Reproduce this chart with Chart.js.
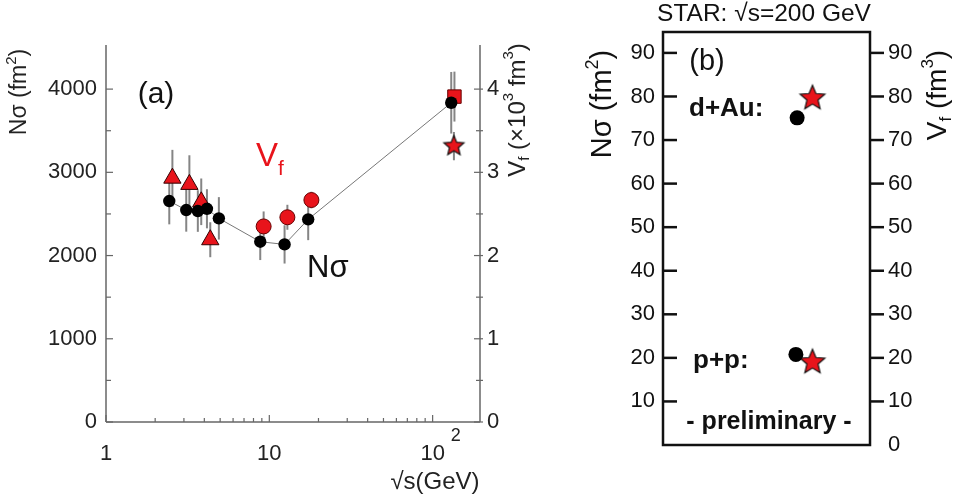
<!DOCTYPE html>
<html>
<head>
<meta charset="utf-8">
<script src="https://cdn.jsdelivr.net/npm/chart.js@4.4.1/dist/chart.umd.min.js"></script>
<style>
html, body { margin: 0; padding: 0; background: #fff; }
#wrapA { position: absolute; left: 0; top: 0; width: 560px; height: 500px; }
#wrapB { position: absolute; left: 580px; top: 0; width: 376px; height: 500px; }
</style>
</head>
<body>
<div id="wrapA"><canvas id="chartA"></canvas></div>
<div id="wrapB"><canvas id="chartB"></canvas></div>
<script>
// ---- datos panel (a) ----
const sqrtS_N = [2.44, 3.10, 3.65, 4.15, 4.91, 8.8, 12.4, 17.3, 130];
const Nsigma = [2655, 2547, 2535, 2562, 2447, 2166, 2134, 2435, 3836];
const Nsigma_err = [280, 260, 250, 235, 255, 220, 230, 250, 370];

const sqrtS_tri = [2.55, 3.24, 3.83, 4.35];
const Vf_tri = [2.93, 2.855, 2.646, 2.19];
const Vf_tri_err = [0.34, 0.35, 0.28, 0.21];

const sqrtS_circ = [9.23, 12.9, 18.1];
const Vf_circ = [2.35, 2.46, 2.667];
const Vf_circ_err = [0.18, 0.15, 0.1];

const sqrtS_sq = [136];
const Vf_sq = [3.91];
const Vf_sq_err = [0.3];

const sqrtS_star = [135];
const Vf_star = [3.315];
const Vf_star_err = [0.17];

const ticksN = [0, 1000, 2000, 3000, 4000];
const ticksV = [0, 1, 2, 3, 4];
const ticksX = [1, 10, 100];
const etiquetasX = ['1', '10', '10'];

// ---- datos panel (b) ----
const sistemasB = ['d+Au:', 'p+p:'];
const posB_N = [0.648, 0.642];
const NsigmaB = [75.1, 20.8];
const posB_V = [0.722, 0.722];
const VfB = [79.6, 19.0];
const ticksB_izq = [10, 20, 30, 40, 50, 60, 70, 80, 90];
const ticksB_der = [0, 10, 20, 30, 40, 50, 60, 70, 80, 90];

const FONT = '"Liberation Sans", Arial, Helvetica, sans-serif';
const ROJO = '#e8141b';
Chart.defaults.font.family = FONT;

function puntos(xs, ys) {
    return xs.map((x, i) => ({ x: x, y: ys[i] }));
}

function hacerEstrella(r, fill) {
    const c = document.createElement('canvas');
    const s = Math.ceil(2 * r + 4);
    c.width = s; c.height = s;
    const g = c.getContext('2d');
    g.beginPath();
    for (let i = 0; i < 10; i++) {
        const ang = -Math.PI / 2 + i * Math.PI / 5;
        const rr = i % 2 === 0 ? r : r * 0.45;
        g.lineTo(s / 2 + rr * Math.cos(ang), s / 2 + rr * Math.sin(ang));
    }
    g.closePath();
    g.fillStyle = fill;
    g.fill();
    g.lineWidth = 1.2;
    g.strokeStyle = '#111';
    g.stroke();
    return c;
}

// texto con sub/superindices: partes = [texto, tamaño, dy, peso]
function textoRico(ctx, x, y, partes, opts) {
    opts = opts || {};
    ctx.save();
    ctx.translate(x, y);
    if (opts.rot) ctx.rotate(opts.rot);
    let w = 0;
    partes.forEach(p => {
        ctx.font = (p[3] || 'normal') + ' ' + p[1] + 'px ' + FONT;
        w += ctx.measureText(p[0]).width;
    });
    let cx = opts.align === 'left' ? 0 : (opts.align === 'right' ? -w : -w / 2);
    ctx.fillStyle = opts.color || '#000';
    ctx.textBaseline = 'middle';
    ctx.textAlign = 'left';
    partes.forEach(p => {
        ctx.font = (p[3] || 'normal') + ' ' + p[1] + 'px ' + FONT;
        ctx.fillText(p[0], cx, p[2] || 0);
        cx += ctx.measureText(p[0]).width;
    });
    ctx.restore();
}

function linea(ctx, x1, y1, x2, y2) {
    ctx.beginPath();
    ctx.moveTo(x1, y1);
    ctx.lineTo(x2, y2);
    ctx.stroke();
}

// barras de error (debajo de los marcadores)
const pluginErrores = {
    id: 'errores',
    beforeDatasetsDraw(chart) {
        const ctx = chart.ctx;
        ctx.save();
        ctx.strokeStyle = '#858585';
        ctx.lineWidth = 2;
        chart.data.datasets.forEach((ds, di) => {
            if (!ds.errores) return;
            const meta = chart.getDatasetMeta(di);
            const ys = chart.scales[ds.yAxisID];
            ds.data.forEach((p, i) => {
                const px = meta.data[i].x;
                linea(ctx, px, ys.getPixelForValue(p.y - ds.errores[i]), px, ys.getPixelForValue(p.y + ds.errores[i]));
            });
        });
        ctx.restore();
    }
};

// ejes, marcas y textos del panel (a)
const pluginPanelA = {
    id: 'panelA',
    afterDraw(chart) {
        const ctx = chart.ctx;
        const a = chart.chartArea;
        const sx = chart.scales.x, sN = chart.scales.yN, sV = chart.scales.yV;
        ctx.save();
        ctx.strokeStyle = '#666';
        ctx.lineWidth = 1.5;
        linea(ctx, a.left, a.top, a.left, a.bottom);
        linea(ctx, a.right, a.top, a.right, a.bottom);
        linea(ctx, a.left, a.bottom, a.right, a.bottom);
        ctx.lineWidth = 1.2;
        for (let v = 0; v <= 4000; v += 500) {
            const py = sN.getPixelForValue(v);
            linea(ctx, a.left, py, a.left + (v % 1000 === 0 ? 7 : 5), py);
        }
        for (let v = 0; v <= 4; v += 0.5) {
            const py = sV.getPixelForValue(v);
            linea(ctx, a.right - (v % 1 === 0 ? 6 : 4), py, a.right + 3, py);
        }
        ticksX.forEach(dec => {
            for (let k = 1; k < 10; k++) {
                const v = dec * k;
                if (v > sx.max) break;
                const px = sx.getPixelForValue(v);
                linea(ctx, px, a.bottom, px, a.bottom - (k === 1 ? 7 : 4));
            }
        });
        ctx.restore();

        // superindice del 10^2
        const p100 = sx.getPixelForValue(100);
        textoRico(ctx, p100 + 23, a.bottom + 14, [['2', 18, 0]], { align: 'center', color: '#222' });
        // titulo eje x
        textoRico(ctx, 435, 482, [['\u221As(GeV)', 24, 0]], { color: '#222' });
        // titulos ejes y
        textoRico(ctx, 20, 92, [['N\u03C3 (fm', 23, 0], ['2', 15, -8], [')', 23, 0]], { rot: -Math.PI / 2, color: '#222' });
        textoRico(ctx, 518, 110, [['V', 24, 0], ['f', 15, 7], [' (\u00D710', 24, 0], ['3', 15, -9], [' fm', 24, 0], ['3', 15, -9], [')', 24, 0]], { rot: -Math.PI / 2, color: '#222' });
        // anotaciones
        textoRico(ctx, 156, 95, [['(a)', 30, 0]], { color: '#111' });
        textoRico(ctx, 256, 157, [['V', 33, 0], ['f', 21, 12]], { align: 'left', color: ROJO });
        textoRico(ctx, 307, 268, [['N\u03C3', 31, 0]], { align: 'left', color: '#111' });
    }
};

// marco, marcas y textos del panel (b)
const pluginPanelB = {
    id: 'panelB',
    afterDraw(chart) {
        const ctx = chart.ctx;
        const a = chart.chartArea;
        const sN = chart.scales.yN;
        ctx.save();
        ctx.strokeStyle = '#111';
        ctx.lineWidth = 2.5;
        ctx.strokeRect(a.left, a.top, a.right - a.left, a.bottom - a.top);
        ticksB_izq.forEach(v => {
            const py = sN.getPixelForValue(v);
            linea(ctx, a.left, py, a.left + 14, py);
            linea(ctx, a.right, py, a.right + 14, py);
        });
        ctx.restore();
        textoRico(ctx, 184, 14, [['STAR: \u221As=200 GeV', 24.5, 0]], { color: '#111' });
        textoRico(ctx, 23, 104, [['N\u03C3 (fm', 29, 0], ['2', 18, -10], [')', 29, 0]], { rot: -Math.PI / 2, color: '#111' });
        textoRico(ctx, 358, 95, [['V', 28, 0], ['f', 17, 8], [' (fm', 28, 0], ['3', 17, -10], [')', 28, 0]], { rot: -Math.PI / 2, color: '#111' });
        textoRico(ctx, 127, 62, [['(b)', 29, 0]], { color: '#111' });
        textoRico(ctx, 109, 109, [[sistemasB[0], 26, 0, 'bold']], { align: 'left', color: '#111' });
        textoRico(ctx, 113, 361, [[sistemasB[1], 26, 0, 'bold']], { align: 'left', color: '#111' });
        textoRico(ctx, 189, 422, [['- preliminary -', 25, 0, 'bold']], { color: '#111' });
    }
};

function ejeY(pos, min, max, valores, ancho, padding, size, color) {
    return {
        type: 'linear',
        position: pos,
        min: min,
        max: max,
        grid: { display: false, drawTicks: false },
        border: { display: false },
        afterBuildTicks: scale => { scale.ticks = valores.map(v => ({ value: v })); },
        afterFit: scale => { scale.width = ancho; },
        ticks: {
            autoSkip: false,
            padding: padding,
            color: color,
            font: { size: size },
            callback: v => String(v)
        }
    };
}

document.addEventListener('DOMContentLoaded', function() {
    const estrellaA = hacerEstrella(10.5, ROJO);
    const estrellaB = hacerEstrella(13, ROJO);

    new Chart(document.getElementById('chartA').getContext('2d'), {
        type: 'scatter',
        data: {
            datasets: [{
                label: 'N\u03C3',
                data: puntos(sqrtS_N, Nsigma),
                errores: Nsigma_err,
                yAxisID: 'yN',
                showLine: true,
                borderColor: '#777',
                borderWidth: 1,
                pointRadius: 6.2,
                pointBackgroundColor: '#000',
                pointBorderColor: '#000',
                pointBorderWidth: 0,
                order: 0
            }, {
                label: 'Vf triangulos',
                data: puntos(sqrtS_tri, Vf_tri),
                errores: Vf_tri_err,
                yAxisID: 'yV',
                pointStyle: 'triangle',
                pointRadius: 10,
                backgroundColor: ROJO,
                borderColor: '#300',
                borderWidth: 1,
                order: 1
            }, {
                label: 'Vf circulos',
                data: puntos(sqrtS_circ, Vf_circ),
                errores: Vf_circ_err,
                yAxisID: 'yV',
                pointStyle: 'circle',
                pointRadius: 7.5,
                backgroundColor: ROJO,
                borderColor: '#600',
                borderWidth: 1,
                order: 1
            }, {
                label: 'Vf cuadrado',
                data: puntos(sqrtS_sq, Vf_sq),
                errores: Vf_sq_err,
                yAxisID: 'yV',
                pointStyle: 'rect',
                pointRadius: 9.5,
                backgroundColor: ROJO,
                borderColor: '#600',
                borderWidth: 1,
                order: 2
            }, {
                label: 'Vf estrella',
                data: puntos(sqrtS_star, Vf_star),
                errores: Vf_star_err,
                yAxisID: 'yV',
                pointStyle: estrellaA,
                order: 2
            }]
        },
        options: {
            responsive: true,
            maintainAspectRatio: false,
            animation: false,
            layout: { padding: { top: 45, left: 0, right: 0, bottom: 0 } },
            plugins: { legend: { display: false }, tooltip: { enabled: false } },
            scales: {
                x: {
                    type: 'logarithmic',
                    min: 1,
                    max: 195,
                    grid: { display: false, drawTicks: false },
                    border: { display: false },
                    afterBuildTicks: scale => { scale.ticks = ticksX.map(v => ({ value: v })); },
                    afterFit: scale => { scale.height = 78; },
                    ticks: {
                        autoSkip: false,
                        maxRotation: 0,
                        padding: 19,
                        color: '#222',
                        font: { size: 22 },
                        callback: (v, i) => etiquetasX[i]
                    }
                },
                yN: ejeY('left', 0, 4530, ticksN, 106, 9, 22, '#222'),
                yV: ejeY('right', 0, 4.53, ticksV, 80, 7, 22, '#222')
            }
        },
        plugins: [pluginErrores, pluginPanelA]
    });

    new Chart(document.getElementById('chartB').getContext('2d'), {
        type: 'scatter',
        data: {
            datasets: [{
                label: 'N\u03C3',
                data: puntos(posB_N, NsigmaB),
                yAxisID: 'yN',
                pointRadius: 7.5,
                pointBackgroundColor: '#000',
                pointBorderColor: '#000',
                pointBorderWidth: 0,
                order: 0
            }, {
                label: 'Vf',
                data: puntos(posB_V, VfB),
                yAxisID: 'yV',
                pointStyle: estrellaB,
                order: 1
            }]
        },
        options: {
            responsive: true,
            maintainAspectRatio: false,
            animation: false,
            layout: { padding: { top: 32, left: 0, right: 0, bottom: 55 } },
            plugins: { legend: { display: false }, tooltip: { enabled: false } },
            scales: {
                x: { type: 'linear', min: 0, max: 1, display: false },
                yN: ejeY('left', 0, 94.8, ticksB_izq, 83, 8, 22, '#111'),
                yV: ejeY('right', 0, 94.8, ticksB_der, 86, 18, 22, '#111')
            }
        },
        plugins: [pluginPanelB]
    });
});
</script>
</body>
</html>
